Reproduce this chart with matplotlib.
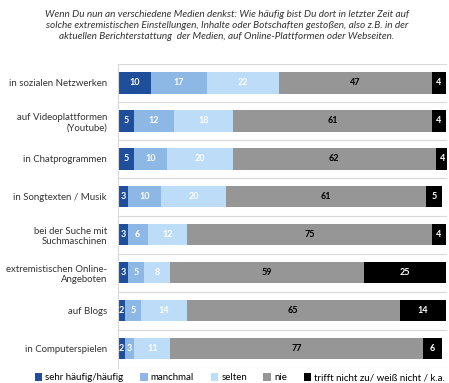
import numpy as np
import matplotlib.pyplot as plt

plt.rcParams['font.family'] = ['Lato', 'DejaVu Sans']

categories = ['in sozialen Netzwerken', 'auf Videoplattformen\n(Youtube)',
              'in Chatprogrammen', 'in Songtexten / Musik',
              'bei der Suche mit\nSuchmaschinen', 'extremistischen Online-\nAngeboten',
              'auf Blogs', 'in Computerspielen']
sehr_haeufig = [10, 5, 5, 3, 3, 3, 2, 2]
manchmal = [17, 12, 10, 10, 6, 5, 5, 3]
selten = [22, 18, 20, 20, 12, 8, 14, 11]
nie = [47, 61, 62, 61, 75, 59, 65, 77]
trifft_nicht = [4, 4, 4, 5, 4, 25, 14, 6]

series = [
    ('sehr häufig/häufig', sehr_haeufig, '#1f4e9a', 'white'),
    ('manchmal', manchmal, '#8db8e6', 'white'),
    ('selten', selten, '#bcdcf8', 'white'),
    ('nie', nie, '#969696', 'black'),
    ('trifft nicht zu/ weiß nicht / k.a.', trifft_nicht, '#000000', 'white'),
]

title = ('Wenn Du nun an verschiedene Medien denkst: Wie häufig bist Du dort in letzter Zeit auf\n'
         'solche extremistischen Einstellungen, Inhalte oder Botschaften gestoßen, also z.B. in der\n'
         'aktuellen Berichterstattung  der Medien, auf Online-Plattformen oder Webseiten.')

fig = plt.figure(figsize=(4.49, 3.83), dpi=100)
ax = fig.add_axes([0.263, 0.040, 0.733, 0.793])

y = np.arange(len(categories))
left = np.zeros(len(categories))
for name, vals, col, tcol in series:
    vals = np.array(vals, dtype=float)
    ax.barh(y, vals, left=left, height=0.56, color=col, label=name)
    for yi, (l, v) in enumerate(zip(left, vals)):
        ax.text(l + v / 2, yi, f'{int(v)}', ha='center', va='center', fontsize=6.5,
                fontweight='bold', color=tcol)
    left += vals

ax.set_xlim(0, 100.5)
ax.set_ylim(len(categories) - 0.5, -0.5)
ax.set_yticks(y)
ax.set_yticklabels(categories, fontsize=6.9, color='#333333')
ax.tick_params(axis='y', length=0, pad=8)
ax.set_xticks([])
for yl in np.arange(-0.5, len(categories), 1.0):
    ax.axhline(yl, color='#d9d9d9', lw=0.8, zorder=0)
for s in ['top', 'right', 'bottom']:
    ax.spines[s].set_visible(False)
ax.spines['left'].set_color('#d9d9d9')
ax.spines['left'].set_linewidth(0.8)

fig.text(0.505, 0.975, title, ha='center', va='top', fontsize=7.2, style='italic',
         color='#333333', linespacing=1.3)

ax.legend(loc='upper center', bbox_to_anchor=(0.37, -0.005), ncol=5, frameon=False,
          fontsize=7.0, handlelength=0.8, handleheight=0.8, handletextpad=0.3,
          columnspacing=1.7, borderaxespad=0)

fig.savefig('out.png', dpi=100)
